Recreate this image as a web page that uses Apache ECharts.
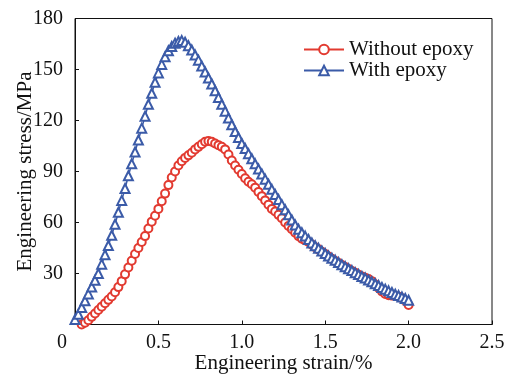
<!DOCTYPE html>
<html>
<head>
<meta charset="utf-8">
<script src="https://cdn.jsdelivr.net/npm/echarts@6/dist/echarts.min.js"></script>
<style>html,body{margin:0;padding:0;background:#fff;}#c{width:510px;height:377px;}</style>
</head>
<body>
<div id="c"></div>
<script>
var seriesNames = ['Without epoxy', 'With epoxy'];
var xTitle = 'Engineering strain/%';
var yTitle = 'Engineering stress/MPa';

var withoutStrain = [0.04,0.06,0.08,0.10,0.12,0.14,0.16,0.18,0.20,0.22,0.24,0.26,0.28,0.30,0.32,0.34,0.36,0.38,0.40,0.42,0.44,0.46,0.48,0.50,0.52,0.54,0.56,0.58,0.60,0.62,0.64,0.66,0.68,0.70,0.72,0.74,0.76,0.78,0.80,0.82,0.84,0.86,0.88,0.90,0.92,0.94,0.96,0.98,1.00,1.02,1.04,1.06,1.08,1.10,1.12,1.14,1.16,1.18,1.20,1.22,1.24,1.26,1.28,1.30,1.32,1.34,1.36,1.38,1.40,1.42,1.44,1.46,1.48,1.50,1.52,1.54,1.56,1.58,1.60,1.62,1.64,1.66,1.68,1.70,1.72,1.74,1.76,1.78,1.80,1.82,1.84,1.86,1.88,1.90,1.92,1.94,1.96,1.98,2.00];
var withoutStress = [0,1,2.5,4.5,6.5,8.5,10.5,12.5,14.5,16.5,19,22,25.5,29.5,33.5,37.5,41.5,45,48.5,52,56.5,60.5,64,68,72.5,77,82,86.5,90,93.5,96,98,99.5,101,103,104.5,106,107.5,108,107.5,106.5,105.5,104.5,103,100,96.5,93.5,91,88.5,86,84,82.5,80.5,78,75.5,73,70.5,68,66.5,64.5,62.5,60,58,56,54,52,50.5,49.5,48.5,47,45.5,44.2,42.8,41.4,40,38.7,37.4,36.2,35,33.8,32.6,31.5,30.4,29.3,28.3,27.5,26.8,25.5,23.5,21.5,19.5,18,17.2,17,16.8,16.3,15.5,14,11.5];

var withStrain = [0.00,0.02,0.04,0.06,0.08,0.10,0.12,0.14,0.16,0.18,0.20,0.22,0.24,0.26,0.28,0.30,0.32,0.34,0.36,0.38,0.40,0.42,0.44,0.46,0.48,0.50,0.52,0.54,0.56,0.58,0.60,0.62,0.64,0.66,0.68,0.70,0.72,0.74,0.76,0.78,0.80,0.82,0.84,0.86,0.88,0.90,0.92,0.94,0.96,0.98,1.00,1.02,1.04,1.06,1.08,1.10,1.12,1.14,1.16,1.18,1.20,1.22,1.24,1.26,1.28,1.30,1.32,1.34,1.36,1.38,1.40,1.42,1.44,1.46,1.48,1.50,1.52,1.54,1.56,1.58,1.60,1.62,1.64,1.66,1.68,1.70,1.72,1.74,1.76,1.78,1.80,1.82,1.84,1.86,1.88,1.90,1.92,1.94,1.96,1.98,2.00];
var withStress = [3,6,10,14,18,22,26,30,35.5,41,46.5,52.5,59,66,73,80,87.5,94.5,101.5,108.5,115.5,122.5,129.5,136,142.5,148,153,157.5,161,163.5,165.5,166.5,167,166,164,161.5,158.5,155.5,152,148.5,145,141.5,137.5,133.5,129.5,125.5,121.5,117.5,113.5,110,106.5,103.5,100.5,97.5,94.5,91.5,88.5,85.5,82.5,79.5,76.5,73.5,70.5,67.5,64.5,61.5,58.5,56,54,52,50,48,46.3,44.8,43.3,41.8,40.3,39,37.8,36.5,35.2,34,32.8,31.7,30.5,29.4,28.3,27.3,26.2,25.1,24,22.9,21.8,20.8,19.8,18.8,17.8,17,16.2,15.3,14.3];

var xTicks = [0, 0.5, 1.0, 1.5, 2.0, 2.5];
var yTicks = [0, 30, 60, 90, 120, 150, 180];

function pairs(xs, ys) { return xs.map(function (x, i) { return [x, ys[i]]; }); }

var FONT = 'Liberation Serif';
var RED = '#e23a30';
var BLUE = '#3b5ba8';

var chart = echarts.init(document.getElementById('c'), null, { renderer: 'canvas' });
chart.setOption({
  animation: false,
  backgroundColor: '#fff',
  textStyle: { fontFamily: FONT },
  grid: { left: 75, right: 18, top: 18.5, bottom: 52.5, containLabel: false, outerBoundsMode: 'none', show: true, borderColor: '#111', borderWidth: 1, backgroundColor: 'transparent' },
  legend: {
    orient: 'vertical', left: 298, top: 34, itemGap: 0, itemWidth: 40, itemHeight: 12,
    data: seriesNames,
    textStyle: { fontFamily: FONT, fontSize: 21, color: '#111', lineHeight: 19 }
  },
  xAxis: {
    type: 'value', min: xTicks[0], max: xTicks[xTicks.length - 1], interval: 0.5,
    name: xTitle, nameLocation: 'middle', nameGap: 28, nameMoveOverlap: false,
    nameTextStyle: { fontFamily: FONT, fontSize: 21, color: '#111' },
    axisLine: { show: true, onZero: false, lineStyle: { color: '#111', width: 1 } },
    axisTick: { show: true, inside: true, length: 4, lineStyle: { color: '#111' } },
    splitLine: { show: false },
    axisLabel: {
      fontFamily: FONT, fontSize: 20, color: '#111', margin: 8,
      formatter: function (v) { return v === 0 ? '{z|0}' : v.toFixed(1); },
      rich: { z: { fontFamily: FONT, fontSize: 20, color: '#111', padding: [0, 26, 0, 0] } }
    }
  },
  yAxis: {
    type: 'value', min: yTicks[0], max: yTicks[yTicks.length - 1], interval: 30,
    name: yTitle, nameLocation: 'middle', nameGap: 39, nameMoveOverlap: false,
    nameTextStyle: { fontFamily: FONT, fontSize: 21, color: '#111' },
    axisLine: { show: true, onZero: false, lineStyle: { color: '#111', width: 1 } },
    axisTick: { show: true, inside: true, length: 4, lineStyle: { color: '#111' } },
    splitLine: { show: false },
    axisLabel: { fontFamily: FONT, fontSize: 20, color: '#111', margin: 12, showMinLabel: false }
  },
  series: [
    {
      name: seriesNames[0], type: 'line', data: pairs(withoutStrain, withoutStress),
      symbol: 'emptyCircle', symbolSize: 8, showAllSymbol: true,
      lineStyle: { color: RED, width: 1.5 },
      itemStyle: { color: RED, borderColor: RED, borderWidth: 1.2 },
      z: 2
    },
    {
      name: seriesNames[1], type: 'line', data: pairs(withStrain, withStress),
      symbol: 'emptyTriangle', symbolSize: 9, showAllSymbol: true,
      lineStyle: { color: BLUE, width: 1.5 },
      itemStyle: { color: BLUE, borderColor: BLUE, borderWidth: 1.2 },
      z: 3
    }
  ]
});
</script>
</body>
</html>
